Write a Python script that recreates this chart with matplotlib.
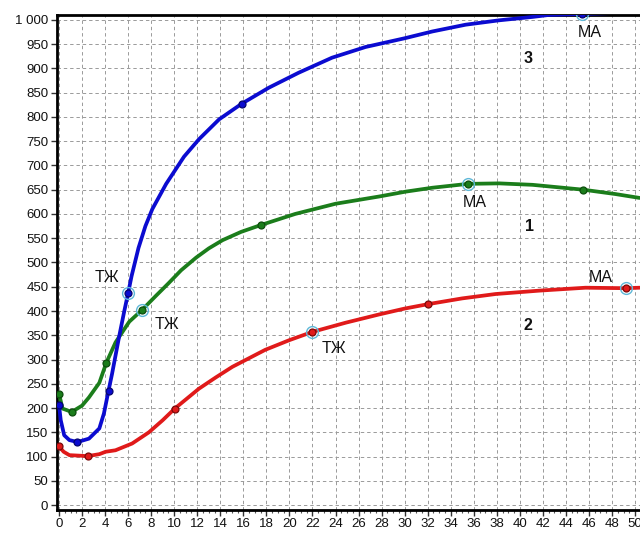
import matplotlib
matplotlib.use('Agg')
import matplotlib.pyplot as plt
from matplotlib.ticker import MultipleLocator

plt.rcParams['font.family'] = ['Liberation Sans', 'DejaVu Sans']

# кривая 1 (зелёная)
x1 = [0, 0.3, 1.1, 2.0, 2.6, 3.5, 4.1, 4.9, 5.2, 6.1, 7.2, 8.4, 9.5, 10.6, 11.9,
      13.0, 14.2, 15.8, 17.5, 20.5, 24.0, 27.8, 30.1, 32.4, 35.5, 38.2, 41.1,
      45.5, 48.3, 50.4]
y1 = [230, 199, 192, 205, 222, 252, 293, 335, 346, 378, 402, 431, 457, 484, 510,
      529, 546, 563, 577, 600, 621, 636, 646, 654, 662, 663, 660,
      650, 641, 633]
dots1 = [0, 1.1, 4.1, 7.2, 17.5, 35.5, 45.5]
rings1 = [7.2, 35.5]

# кривая 2 (красная)
x2 = [0, 0.4, 0.9, 2.5, 3.5, 4.05, 4.9, 6.35, 7.8, 9.0, 10.05, 12.15, 13.6,
      15.05, 17.9, 20.0, 22.0, 24.9, 27.8, 30.0, 32.0, 35.0, 37.9, 41.7, 45.7,
      49.2, 50.4]
y2 = [121, 110, 103, 101, 105, 110, 113, 127, 150, 175, 199, 240, 263,
      285, 320, 340, 357, 376, 393, 405, 414, 426, 435, 442, 448,
      447, 448]
dots2 = [0, 2.5, 10.05, 22.0, 32.0, 49.2]
rings2 = [22.0, 49.2]

# кривая 3 (синяя)
x3 = [0, 0.15, 0.45, 0.9, 1.6, 2.6, 3.5, 3.9, 4.3, 4.6, 5.2, 5.65, 6.0, 6.3,
      6.9, 7.5, 8.1, 9.3, 10.85, 12.15, 13.9, 15.85, 18.2, 20.8, 23.7, 26.6,
      30.0, 32.4, 35.3, 38.2, 41.1, 42.5, 45.4, 48.0, 50.4]
y3 = [206, 175, 144, 134, 130, 137, 158, 189, 236, 270, 345, 398, 437, 472,
      530, 575, 610, 662, 718, 754, 795, 827, 860, 891, 922, 944,
      962, 976, 990, 999, 1006, 1010, 1012, 1014, 1015]
dots3 = [0, 1.6, 4.3, 6.0, 15.85, 45.4]
rings3 = [6.0, 45.4]

x_ticks = list(range(0, 51, 2))
y_ticks = list(range(0, 1001, 50))
y_tick_labels = [f'{v:,}'.replace(',', ' ') for v in y_ticks]

fig = plt.figure(figsize=(6.4, 5.33), dpi=100)
ax = fig.add_axes([0.0886, 0.0432, 0.9114, 0.9287])

series = [
    (x1, y1, dots1, rings1, '#1b7d1b', '#0d4d0d'),
    (x2, y2, dots2, rings2, '#e01a1a', '#7a0a0a'),
    (x3, y3, dots3, rings3, '#0b0bd0', '#05056e'),
]
for xs, ys, dots, rings, col, dark in series:
    ax.plot(xs, ys, color=col, lw=2.7, solid_capstyle='round',
            solid_joinstyle='round', zorder=3)
    ax.plot(xs, ys, ls='none', marker='o', ms=5, mfc=col, mec=dark, mew=0.9,
            markevery=[xs.index(v) for v in dots], zorder=4)
    ax.plot(xs, ys, ls='none', marker='o', ms=8.5, mfc='none', mec='#5fb8d8',
            mew=1.0, markevery=[xs.index(v) for v in rings], zorder=4)

txt = dict(fontsize=11.5, color='#111111', ha='center', va='center', zorder=5)
ax.text(4.2, 470, 'ТЖ', **txt)
ax.text(9.4, 372, 'ТЖ', **txt)
ax.text(23.9, 322, 'ТЖ', **txt)
ax.text(46.1, 974, 'МА', **txt)
ax.text(36.1, 624, 'МА', **txt)
ax.text(47.0, 470, 'МА', **txt)

num = dict(fontsize=11.5, fontweight='bold', color='#111111', ha='center', va='center')
ax.text(40.7, 921, '3', **num)
ax.text(40.8, 574, '1', **num)
ax.text(40.7, 370, '2', **num)

ax.set_xlim(-0.2, 50.43)
ax.set_ylim(-10, 1010)
ax.set_xticks(x_ticks)
ax.set_xticklabels([str(v) for v in x_ticks])
ax.set_yticks(y_ticks)
ax.set_yticklabels(y_tick_labels)
ax.xaxis.set_minor_locator(MultipleLocator(0.5))

ax.grid(True, which='major', color='#9a9a9a', linestyle=(0, (3.5, 3)), lw=0.7)
ax.tick_params(axis='both', which='major', labelsize=9.5, length=4, width=1,
               color='#333333', labelcolor='#111111', pad=2)
ax.tick_params(axis='x', which='minor', length=2.5, width=0.8, color='#555555')

for side in ['left', 'bottom', 'top']:
    ax.spines[side].set_linewidth(2)
    ax.spines[side].set_color('black')
ax.spines['right'].set_visible(False)

fig.savefig('out.png', dpi=100)
